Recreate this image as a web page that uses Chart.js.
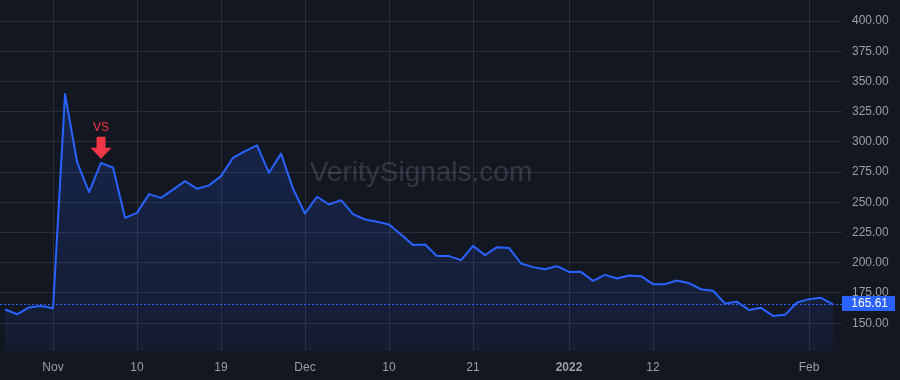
<!DOCTYPE html>
<html lang="en">
<head>
    <meta charset="UTF-8">
    <title>VeritySignals chart</title>
    <style>
        body {
            margin: 0;
            background-color: #131722;
        }

        .chart-container {
            position: relative;
            width: 900px;
            height: 380px;
        }
    </style>
    <script src="https://cdn.jsdelivr.net/npm/chart.js@4.4.0/dist/chart.umd.min.js"></script>
</head>
<body>
    <div class="chart-container">
        <canvas id="chart" width="900" height="380"></canvas>
    </div>
    <script>
        // daily closes, trading days from Oct 26 2021 to Feb 3 2022
        const prices = [
            161.3, 157.4, 163.0, 164.3, 162.4, 339.6, 283.5, 258.4, 282.7, 278.6,
            237.2, 241.3, 256.8, 253.7, 260.5, 267.5, 261.2, 264.0, 271.7, 286.8,
            292.4, 297.1, 274.4, 290.3, 261.2, 240.8, 254.6, 248.2, 251.8, 240.2,
            235.8, 233.9, 231.7, 223.4, 214.8, 215.1, 205.5, 205.5, 202.2, 214.0,
            206.3, 212.9, 212.3, 199.4, 196.4, 194.7, 197.2, 192.4, 192.5, 185.0,
            190.0, 187.0, 189.5, 188.9, 182.3, 182.3, 185.3, 183.1, 178.1, 176.8,
            166.3, 167.7, 161.0, 162.7, 156.0, 156.9, 167.1, 169.9, 171.0, 165.61
        ];
        const lastPrice = 165.61;

        // x tick positions (trading day index) and their labels
        const xTickIdx = [4, 11, 18, 25, 32, 39, 47, 54, 67];
        const xTickLabels = ['Nov', '10', '19', 'Dec', '10', '21', '2022', '12', 'Feb'];

        const yTicks = [150, 175, 200, 225, 250, 275, 300, 325, 350, 375, 400];

        // signal marker
        const signalIdx = 8;
        const signalText = 'VS';
        const watermark = 'VeritySignals.com';

        const FONT = "'Liberation Sans', Arial, sans-serif";
        const TEXT = '#9b9ea7';
        const GRID = '#2a2e3a';
        const BLUE = '#2962ff';
        const RED = '#f23645';

        const points = prices.map((v, i) => ({ x: i, y: v }));

        // no extra room for half labels at the ends of the axes
        function noPadding(scale) {
            scale.paddingTop = 0;
            scale.paddingBottom = 0;
            scale.paddingLeft = 0;
            scale.paddingRight = 0;
        }

        const chartDecor = {
            id: 'chartDecor',
            beforeDraw(chart) {
                const ctx = chart.ctx;
                ctx.save();
                ctx.fillStyle = '#131722';
                ctx.fillRect(0, 0, chart.width, chart.height);
                ctx.restore();
            },
            beforeDatasetsDraw(chart) {
                const ctx = chart.ctx;
                const area = chart.chartArea;
                ctx.save();
                ctx.font = '28px ' + FONT;
                ctx.fillStyle = 'rgba(120, 124, 138, 0.32)';
                ctx.textAlign = 'center';
                ctx.textBaseline = 'middle';
                ctx.fillText(watermark, (area.left + area.right) / 2, 173);
                ctx.restore();
            },
            afterDatasetsDraw(chart) {
                const ctx = chart.ctx;
                const x = chart.scales.x;
                const y = chart.scales.y;
                const area = chart.chartArea;

                // dashed last price line
                const py = y.getPixelForValue(lastPrice);
                ctx.save();
                ctx.strokeStyle = BLUE;
                ctx.lineWidth = 1;
                ctx.setLineDash([2, 2]);
                ctx.beginPath();
                ctx.moveTo(area.left, Math.round(py) + 0.5);
                ctx.lineTo(area.right, Math.round(py) + 0.5);
                ctx.stroke();
                ctx.restore();

                // VS arrow marker above the signal bar
                const sx = x.getPixelForValue(signalIdx);
                const tip = y.getPixelForValue(prices[signalIdx]) - 4;
                ctx.save();
                ctx.fillStyle = RED;
                ctx.beginPath();
                ctx.moveTo(sx - 4.5, tip - 22);
                ctx.lineTo(sx + 4.5, tip - 22);
                ctx.lineTo(sx + 4.5, tip - 11);
                ctx.lineTo(sx + 10.5, tip - 11);
                ctx.lineTo(sx, tip);
                ctx.lineTo(sx - 10.5, tip - 11);
                ctx.lineTo(sx - 4.5, tip - 11);
                ctx.closePath();
                ctx.fill();
                ctx.font = '12px ' + FONT;
                ctx.textAlign = 'center';
                ctx.textBaseline = 'middle';
                ctx.fillText(signalText, sx, tip - 31);
                ctx.restore();
            },
            afterDraw(chart) {
                const ctx = chart.ctx;
                const y = chart.scales.y;
                const py = y.getPixelForValue(lastPrice);
                ctx.save();
                ctx.fillStyle = BLUE;
                ctx.fillRect(chart.chartArea.right, Math.round(py) - 8, 53, 15);
                ctx.fillStyle = '#ffffff';
                ctx.font = '12px ' + FONT;
                ctx.textAlign = 'right';
                ctx.textBaseline = 'middle';
                ctx.fillText(lastPrice.toFixed(2), 888, Math.round(py));
                ctx.restore();
            }
        };

        const ctx = document.getElementById('chart').getContext('2d');
        new Chart(ctx, {
            type: 'line',
            data: {
                datasets: [{
                    data: points,
                    borderColor: BLUE,
                    borderWidth: 2,
                    borderJoinStyle: 'round',
                    pointRadius: 0,
                    tension: 0,
                    fill: 'start',
                    backgroundColor: (c) => {
                        const area = c.chart.chartArea;
                        if (!area) return 'rgba(41, 98, 255, 0.12)';
                        const g = c.chart.ctx.createLinearGradient(0, 90, 0, area.bottom);
                        g.addColorStop(0, 'rgba(41, 98, 255, 0.2)');
                        g.addColorStop(1, 'rgba(41, 98, 255, 0.07)');
                        return g;
                    }
                }]
            },
            options: {
                responsive: false,
                animation: false,
                events: [],
                layout: { padding: 0 },
                plugins: {
                    legend: { display: false },
                    tooltip: { enabled: false }
                },
                scales: {
                    x: {
                        type: 'linear',
                        bounds: 'data',
                        min: -0.42,
                        max: 69.75,
                        afterBuildTicks: (scale) => {
                            scale.ticks = xTickIdx.map(v => ({ value: v }));
                        },
                        afterFit: (scale) => {
                            scale.height = 29;
                            noPadding(scale);
                        },
                        grid: { color: GRID, drawTicks: false },
                        border: { display: false },
                        ticks: {
                            autoSkip: false,
                            maxRotation: 0,
                            padding: 9,
                            color: TEXT,
                            font: (c) => ({
                                family: FONT,
                                size: 12,
                                weight: c.tick && c.tick.label === '2022' ? 'bold' : 'normal'
                            }),
                            callback: (v, i) => xTickLabels[i]
                        }
                    },
                    y: {
                        position: 'right',
                        bounds: 'data',
                        min: 127.0,
                        max: 417.4,
                        afterBuildTicks: (scale) => {
                            scale.ticks = yTicks.map(v => ({ value: v }));
                        },
                        afterFit: (scale) => {
                            scale.width = 58;
                            noPadding(scale);
                        },
                        grid: { color: GRID, drawTicks: false },
                        border: { display: false },
                        ticks: {
                            crossAlign: 'near',
                            padding: 10,
                            color: TEXT,
                            font: { family: FONT, size: 12 },
                            callback: (v) => Number(v).toFixed(2)
                        }
                    }
                }
            },
            plugins: [chartDecor]
        });
    </script>
</body>
</html>
